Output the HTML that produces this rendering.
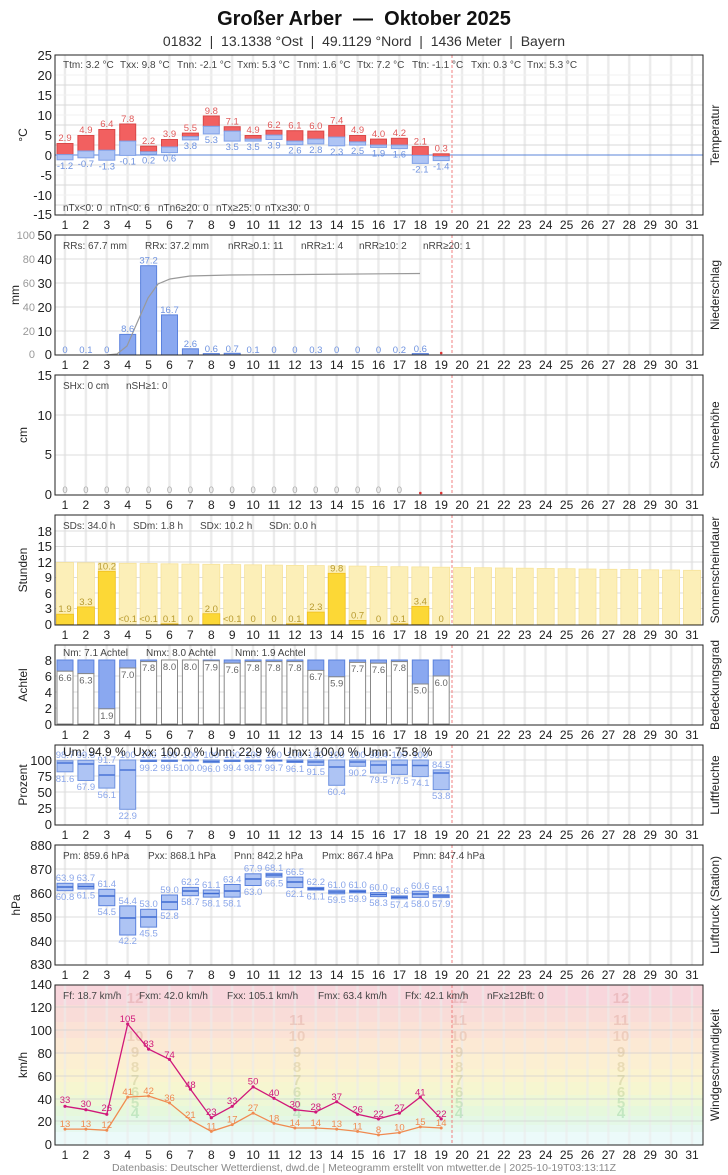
<!DOCTYPE html>
<html><head><meta charset="utf-8"><style>
body{margin:0;background:#fff}
svg{display:block;font-family:"Liberation Sans",sans-serif}
.ax{font-size:13px;fill:#222}
.st{font-size:10px;fill:#444}
.tt{font-size:12px;fill:#222}
.vr{font-size:9.5px;text-anchor:middle}
.dl{font-size:12px;fill:#222;text-anchor:middle}
.fr{fill:none;stroke:#222;stroke-width:1}
</style></head><body>
<svg width="728" height="1175" viewBox="0 0 728 1175">
<defs>
<pattern id="vd" patternUnits="userSpaceOnUse" x="54.55" y="0" width="20.9" height="10"><rect x="9.2" y="0" width="2.4" height="10" fill="#ebebeb"/></pattern>
</defs>
<text x="364" y="25" text-anchor="middle" font-size="20" font-weight="bold" fill="#111">Großer Arber&#160; — &#160;Oktober 2025</text>
<text x="364" y="46" text-anchor="middle" font-size="14" fill="#333">01832&#160; | &#160;13.1338 °Ost&#160; | &#160;49.1129 °Nord&#160; | &#160;1436 Meter&#160; | &#160;Bayern</text>

<!-- ===== Panel 1 Temperature 55..215 ===== -->
<rect x="55" y="55" width="648" height="160" fill="url(#vd)"/>
<g stroke="#f0f0f0"><line x1="55" x2="703" y1="75" y2="75"/><line x1="55" x2="703" y1="95" y2="95"/><line x1="55" x2="703" y1="115" y2="115"/><line x1="55" x2="703" y1="135" y2="135"/><line x1="55" x2="703" y1="175" y2="175"/><line x1="55" x2="703" y1="195" y2="195"/></g>
<g stroke="#d8d8d8"><line x1="55" x2="703" y1="85" y2="85"/><line x1="55" x2="703" y1="105" y2="105"/><line x1="55" x2="703" y1="125" y2="125"/><line x1="55" x2="703" y1="145" y2="145"/><line x1="55" x2="703" y1="165" y2="165"/><line x1="55" x2="703" y1="185" y2="185"/><line x1="55" x2="703" y1="205" y2="205"/></g>
<line x1="55" x2="703" y1="155" y2="155" stroke="#5b86d8"/>
<g stroke="#d94848" fill="#f26060" stroke-width="1">
<rect x="57" y="143.5" width="16" height="11.1"/><rect x="77.9" y="135.5" width="16" height="15.5"/><rect x="98.8" y="129.5" width="16" height="20.7"/><rect x="119.7" y="124" width="16" height="17.1"/><rect x="140.6" y="146.2" width="16" height="5.6"/><rect x="161.5" y="139.5" width="16" height="7.5"/><rect x="182.4" y="133.1" width="16" height="3.6"/><rect x="203.3" y="116" width="16" height="10.3"/><rect x="224.2" y="126.7" width="16" height="4.4"/><rect x="245.1" y="135.5" width="16" height="3.6"/><rect x="266" y="130.3" width="16" height="4.8"/><rect x="286.9" y="130.7" width="16" height="10.4"/><rect x="307.8" y="131.1" width="16" height="8"/><rect x="328.7" y="125.5" width="16" height="11.6"/><rect x="349.6" y="135.5" width="16" height="6.4"/><rect x="370.5" y="139.1" width="16" height="6"/><rect x="391.4" y="138.3" width="16" height="6.8"/><rect x="412.3" y="146.6" width="16" height="8.8"/><rect x="433.2" y="153.8" width="16" height="2.8"/>
</g>
<g stroke="#7fa0e8" fill="#aec4f4" stroke-width="1">
<rect x="57" y="154.6" width="16" height="5.2"/><rect x="77.9" y="151" width="16" height="6.8"/><rect x="98.8" y="150.2" width="16" height="10"/><rect x="119.7" y="141.1" width="16" height="14.3"/><rect x="140.6" y="151.8" width="16" height="2.4"/><rect x="161.5" y="147" width="16" height="5.6"/><rect x="182.4" y="136.7" width="16" height="3.2"/><rect x="203.3" y="126.3" width="16" height="7.6"/><rect x="224.2" y="131.1" width="16" height="10"/><rect x="245.1" y="139.1" width="16" height="2"/><rect x="266" y="135.1" width="16" height="4.4"/><rect x="286.9" y="141.1" width="16" height="3.6"/><rect x="307.8" y="139.1" width="16" height="4.8"/><rect x="328.7" y="137.1" width="16" height="8.7"/><rect x="349.6" y="141.9" width="16" height="3.2"/><rect x="370.5" y="145.1" width="16" height="2.3"/><rect x="391.4" y="145.1" width="16" height="3.5"/><rect x="412.3" y="155.4" width="16" height="8"/><rect x="433.2" y="156.6" width="16" height="4"/>
</g>
<g class="vr" fill="#e05a5a">
<text x="65" y="141">2.9</text><text x="85.9" y="133">4.9</text><text x="106.8" y="127">6.4</text><text x="127.7" y="122">7.8</text><text x="148.6" y="144">2.2</text><text x="169.5" y="137">3.9</text><text x="190.4" y="131">5.5</text><text x="211.3" y="114">9.8</text><text x="232.2" y="124.5">7.1</text><text x="253.1" y="133">4.9</text><text x="274" y="128">6.2</text><text x="294.9" y="128.5">6.1</text><text x="315.8" y="129">6.0</text><text x="336.7" y="123.5">7.4</text><text x="357.6" y="133">4.9</text><text x="378.5" y="137">4.0</text><text x="399.4" y="136">4.2</text><text x="420.3" y="144.5">2.1</text><text x="441.2" y="151.5">0.3</text>
</g>
<g class="vr" fill="#6f93e0">
<text x="65" y="169">-1.2</text><text x="85.9" y="167">-0.7</text><text x="106.8" y="169.5">-1.3</text><text x="127.7" y="164.5">-0.1</text><text x="148.6" y="163.5">0.2</text><text x="169.5" y="161.5">0.6</text><text x="190.4" y="149">3.8</text><text x="211.3" y="143">5.3</text><text x="232.2" y="150">3.5</text><text x="253.1" y="150">3.5</text><text x="274" y="148.5">3.9</text><text x="294.9" y="153.5">2.6</text><text x="315.8" y="153">2.8</text><text x="336.7" y="155">2.3</text><text x="357.6" y="154">2.5</text><text x="378.5" y="156.5">1.9</text><text x="399.4" y="157.5">1.6</text><text x="420.3" y="172.5">-2.1</text><text x="441.2" y="169.5">-1.4</text>
</g>
<g class="st" font-size="9">
<text x="63" y="68">Ttm: 3.2 °C</text><text x="120" y="68">Txx: 9.8 °C</text><text x="177" y="68">Tnn: -2.1 °C</text><text x="237" y="68">Txm: 5.3 °C</text><text x="297" y="68">Tnm: 1.6 °C</text><text x="357" y="68">Ttx: 7.2 °C</text><text x="412" y="68">Ttn: -1.1 °C</text><text x="471" y="68">Txn: 0.3 °C</text><text x="527" y="68">Tnx: 5.3 °C</text>
<text x="63" y="211">nTx&lt;0: 0</text><text x="110" y="211">nTn&lt;0: 6</text><text x="158" y="211">nTn6≥20: 0</text><text x="216" y="211">nTx≥25: 0</text><text x="265" y="211">nTx≥30: 0</text>
</g>
<g class="ax" text-anchor="end">
<text x="52" y="60">25</text><text x="52" y="80">20</text><text x="52" y="100">15</text><text x="52" y="120">10</text><text x="52" y="140">5</text><text x="52" y="160">0</text><text x="52" y="180">-5</text><text x="52" y="200">-10</text><text x="52" y="219">-15</text>
</g>
<text class="tt" transform="translate(27,135) rotate(-90)" text-anchor="middle" font-size="13">°C</text>
<text class="tt" transform="translate(719,135) rotate(-90)" text-anchor="middle">Temperatur</text>
<line x1="452" x2="452" y1="55" y2="215" stroke="#f08080" stroke-dasharray="3,2"/>
<rect class="fr" x="55" y="55" width="648" height="160"/>
<text class="dl" y="229"><tspan x="65">1</tspan><tspan x="85.9">2</tspan><tspan x="106.8">3</tspan><tspan x="127.7">4</tspan><tspan x="148.6">5</tspan><tspan x="169.5">6</tspan><tspan x="190.4">7</tspan><tspan x="211.3">8</tspan><tspan x="232.2">9</tspan><tspan x="253.1">10</tspan><tspan x="274">11</tspan><tspan x="294.9">12</tspan><tspan x="315.8">13</tspan><tspan x="336.7">14</tspan><tspan x="357.6">15</tspan><tspan x="378.5">16</tspan><tspan x="399.4">17</tspan><tspan x="420.3">18</tspan><tspan x="441.2">19</tspan><tspan x="462.1">20</tspan><tspan x="483">21</tspan><tspan x="503.9">22</tspan><tspan x="524.8">23</tspan><tspan x="545.7">24</tspan><tspan x="566.6">25</tspan><tspan x="587.5">26</tspan><tspan x="608.4">27</tspan><tspan x="629.3">28</tspan><tspan x="650.2">29</tspan><tspan x="671.1">30</tspan><tspan x="692">31</tspan></text>

<!-- ===== Panel 2 Precip 235..355 ===== -->
<rect x="55" y="235" width="648" height="120" fill="url(#vd)"/>
<g stroke="#dcdcdc"><line x1="55" x2="703" y1="259" y2="259"/><line x1="55" x2="703" y1="283" y2="283"/><line x1="55" x2="703" y1="307" y2="307"/><line x1="55" x2="703" y1="331" y2="331"/></g>
<g fill="#8aa8f0" stroke="#5b82dd">
<rect x="119.7" y="334.4" width="16" height="20.6"/><rect x="140.6" y="265.7" width="16" height="89.3"/><rect x="161.5" y="314.9" width="16" height="40.1"/><rect x="182.4" y="348.8" width="16" height="6.2"/><rect x="203.3" y="353.6" width="16" height="1.4"/><rect x="224.2" y="353.3" width="16" height="1.7"/><rect x="412.3" y="353.6" width="16" height="1.4"/>
</g>
<polyline fill="none" stroke="#999" stroke-width="1.2" points="107,355 117,354 127,346 137,323 148,298 158,284 170,279 190,276 230,275 300,274.5 420,273.5"/>
<g class="vr" fill="#6f93e0">
<text x="65" y="353">0</text><text x="85.9" y="353">0.1</text><text x="106.8" y="353">0</text><text x="127.7" y="332">8.6</text><text x="148.6" y="263.5">37.2</text><text x="169.5" y="313">16.7</text><text x="190.4" y="347">2.6</text><text x="211.3" y="352">0.6</text><text x="232.2" y="352">0.7</text><text x="253.1" y="353">0.1</text><text x="274" y="353">0</text><text x="294.9" y="353">0</text><text x="315.8" y="353">0.3</text><text x="336.7" y="353">0</text><text x="357.6" y="353">0</text><text x="378.5" y="353">0</text><text x="399.4" y="353">0.2</text><text x="420.3" y="352">0.6</text>
</g>
<circle cx="441.2" cy="353" r="1.3" fill="#d33"/>
<g class="st" font-size="11.5"><text x="63" y="249">RRs: 67.7 mm</text><text x="145" y="249">RRx: 37.2 mm</text><text x="228" y="249">nRR≥0.1: 11</text><text x="301" y="249">nRR≥1: 4</text><text x="359" y="249">nRR≥10: 2</text><text x="423" y="249">nRR≥20: 1</text></g>
<g class="ax" text-anchor="end"><text x="52" y="240">50</text><text x="52" y="264">40</text><text x="52" y="288">30</text><text x="52" y="312">20</text><text x="52" y="336">10</text><text x="52" y="359">0</text></g>
<g text-anchor="end" font-size="11" fill="#999"><text x="35" y="239">100</text><text x="35" y="263">80</text><text x="35" y="287">60</text><text x="35" y="311">40</text><text x="35" y="335">20</text><text x="35" y="358">0</text></g>
<text class="tt" transform="translate(19,295) rotate(-90)" text-anchor="middle">mm</text>
<text class="tt" transform="translate(719,295) rotate(-90)" text-anchor="middle">Niederschlag</text>
<line x1="452" x2="452" y1="235" y2="355" stroke="#f08080" stroke-dasharray="3,2"/>
<rect class="fr" x="55" y="235" width="648" height="120"/>
<text class="dl" y="369"><tspan x="65">1</tspan><tspan x="85.9">2</tspan><tspan x="106.8">3</tspan><tspan x="127.7">4</tspan><tspan x="148.6">5</tspan><tspan x="169.5">6</tspan><tspan x="190.4">7</tspan><tspan x="211.3">8</tspan><tspan x="232.2">9</tspan><tspan x="253.1">10</tspan><tspan x="274">11</tspan><tspan x="294.9">12</tspan><tspan x="315.8">13</tspan><tspan x="336.7">14</tspan><tspan x="357.6">15</tspan><tspan x="378.5">16</tspan><tspan x="399.4">17</tspan><tspan x="420.3">18</tspan><tspan x="441.2">19</tspan><tspan x="462.1">20</tspan><tspan x="483">21</tspan><tspan x="503.9">22</tspan><tspan x="524.8">23</tspan><tspan x="545.7">24</tspan><tspan x="566.6">25</tspan><tspan x="587.5">26</tspan><tspan x="608.4">27</tspan><tspan x="629.3">28</tspan><tspan x="650.2">29</tspan><tspan x="671.1">30</tspan><tspan x="692">31</tspan></text>

<!-- ===== Panel 3 Snow 375..495 ===== -->
<rect x="55" y="375" width="648" height="120" fill="url(#vd)"/>
<g stroke="#dcdcdc"><line x1="55" x2="703" y1="415" y2="415"/><line x1="55" x2="703" y1="455" y2="455"/></g>
<g class="vr" fill="#aaa"><text x="65" y="493">0</text><text x="85.9" y="493">0</text><text x="106.8" y="493">0</text><text x="127.7" y="493">0</text><text x="148.6" y="493">0</text><text x="169.5" y="493">0</text><text x="190.4" y="493">0</text><text x="211.3" y="493">0</text><text x="232.2" y="493">0</text><text x="253.1" y="493">0</text><text x="274" y="493">0</text><text x="294.9" y="493">0</text><text x="315.8" y="493">0</text><text x="336.7" y="493">0</text><text x="357.6" y="493">0</text><text x="378.5" y="493">0</text><text x="399.4" y="493">0</text></g>
<circle cx="420.3" cy="493" r="1.3" fill="#d33"/><circle cx="441.2" cy="493" r="1.3" fill="#d33"/>
<g class="st" font-size="11.5"><text x="63" y="389">SHx: 0 cm</text><text x="126" y="389">nSH≥1: 0</text></g>
<g class="ax" text-anchor="end"><text x="52" y="380">15</text><text x="52" y="420">10</text><text x="52" y="459">5</text><text x="52" y="499">0</text></g>
<text class="tt" transform="translate(27,435) rotate(-90)" text-anchor="middle">cm</text>
<text class="tt" transform="translate(719,435) rotate(-90)" text-anchor="middle">Schneehöhe</text>
<line x1="452" x2="452" y1="375" y2="495" stroke="#f08080" stroke-dasharray="3,2"/>
<rect class="fr" x="55" y="375" width="648" height="120"/>
<text class="dl" y="509"><tspan x="65">1</tspan><tspan x="85.9">2</tspan><tspan x="106.8">3</tspan><tspan x="127.7">4</tspan><tspan x="148.6">5</tspan><tspan x="169.5">6</tspan><tspan x="190.4">7</tspan><tspan x="211.3">8</tspan><tspan x="232.2">9</tspan><tspan x="253.1">10</tspan><tspan x="274">11</tspan><tspan x="294.9">12</tspan><tspan x="315.8">13</tspan><tspan x="336.7">14</tspan><tspan x="357.6">15</tspan><tspan x="378.5">16</tspan><tspan x="399.4">17</tspan><tspan x="420.3">18</tspan><tspan x="441.2">19</tspan><tspan x="462.1">20</tspan><tspan x="483">21</tspan><tspan x="503.9">22</tspan><tspan x="524.8">23</tspan><tspan x="545.7">24</tspan><tspan x="566.6">25</tspan><tspan x="587.5">26</tspan><tspan x="608.4">27</tspan><tspan x="629.3">28</tspan><tspan x="650.2">29</tspan><tspan x="671.1">30</tspan><tspan x="692">31</tspan></text>

<!-- ===== Panel 4 Sunshine 515..625 ===== -->
<rect x="55" y="515" width="648" height="110" fill="url(#vd)"/>
<g stroke="#dcdcdc"><line x1="55" x2="703" y1="531" y2="531"/><line x1="55" x2="703" y1="546.5" y2="546.5"/><line x1="55" x2="703" y1="562" y2="562"/><line x1="55" x2="703" y1="577.5" y2="577.5"/><line x1="55" x2="703" y1="593" y2="593"/><line x1="55" x2="703" y1="608.5" y2="608.5"/></g>
<g fill="#fcefb8" stroke="#f7e39a" stroke-width="0.8">
<rect x="56.5" y="562.5" width="17" height="62"/><rect x="77.4" y="562.8" width="17" height="61.7"/><rect x="98.3" y="563" width="17" height="61.5"/><rect x="119.2" y="563.3" width="17" height="61.2"/><rect x="140.1" y="563.5" width="17" height="61"/><rect x="161" y="563.8" width="17" height="60.7"/><rect x="181.9" y="564.1" width="17" height="60.4"/><rect x="202.8" y="564.3" width="17" height="60.2"/><rect x="223.7" y="564.6" width="17" height="59.9"/><rect x="244.6" y="564.8" width="17" height="59.7"/><rect x="265.5" y="565.1" width="17" height="59.4"/><rect x="286.4" y="565.4" width="17" height="59.1"/><rect x="307.3" y="565.6" width="17" height="58.9"/><rect x="328.2" y="565.9" width="17" height="58.6"/><rect x="349.1" y="566.1" width="17" height="58.4"/><rect x="370" y="566.4" width="17" height="58.1"/><rect x="390.9" y="566.7" width="17" height="57.8"/><rect x="411.8" y="566.9" width="17" height="57.6"/><rect x="432.7" y="567.2" width="17" height="57.3"/><rect x="453.6" y="567.4" width="17" height="57.1"/><rect x="474.5" y="567.7" width="17" height="56.8"/><rect x="495.4" y="568" width="17" height="56.5"/><rect x="516.3" y="568.2" width="17" height="56.3"/><rect x="537.2" y="568.5" width="17" height="56"/><rect x="558.1" y="568.7" width="17" height="55.8"/><rect x="579" y="569" width="17" height="55.5"/><rect x="599.9" y="569.3" width="17" height="55.2"/><rect x="620.8" y="569.5" width="17" height="55"/><rect x="641.7" y="569.8" width="17" height="54.7"/><rect x="662.6" y="570" width="17" height="54.5"/><rect x="683.5" y="570.3" width="17" height="54.2"/>
</g>
<g fill="#fcd836" stroke="#f0c020" stroke-width="0.8">
<rect x="56.5" y="614.2" width="17" height="10.3"/><rect x="77.4" y="606.9" width="17" height="17.6"/><rect x="98.3" y="571.3" width="17" height="53.2"/><rect x="161" y="623.8" width="17" height="0.7"/><rect x="202.8" y="613.7" width="17" height="10.8"/><rect x="286.4" y="623.8" width="17" height="0.7"/><rect x="307.3" y="612.1" width="17" height="12.4"/><rect x="328.2" y="573.3" width="17" height="51.2"/><rect x="349.1" y="620.4" width="17" height="4.1"/><rect x="390.9" y="623.8" width="17" height="0.7"/><rect x="411.8" y="606.4" width="17" height="18.1"/>
</g>
<g class="vr" fill="#b89a2e">
<text x="65" y="612">1.9</text><text x="85.9" y="605">3.3</text><text x="106.8" y="569.5">10.2</text><text x="127.7" y="622">&lt;0.1</text><text x="148.6" y="622">&lt;0.1</text><text x="169.5" y="622">0.1</text><text x="190.4" y="622">0</text><text x="211.3" y="612">2.0</text><text x="232.2" y="622">&lt;0.1</text><text x="253.1" y="622">0</text><text x="274" y="622">0</text><text x="294.9" y="622">0.1</text><text x="315.8" y="610">2.3</text><text x="336.7" y="571.5">9.8</text><text x="357.6" y="618.5">0.7</text><text x="378.5" y="622">0</text><text x="399.4" y="622">0.1</text><text x="420.3" y="604.5">3.4</text><text x="441.2" y="622">0</text>
</g>
<g class="st" font-size="11.5"><text x="63" y="529">SDs: 34.0 h</text><text x="133" y="529">SDm: 1.8 h</text><text x="200" y="529">SDx: 10.2 h</text><text x="269" y="529">SDn: 0.0 h</text></g>
<g class="ax" text-anchor="end"><text x="52" y="536">18</text><text x="52" y="551">15</text><text x="52" y="567">12</text><text x="52" y="582">9</text><text x="52" y="598">6</text><text x="52" y="613">3</text><text x="52" y="629">0</text></g>
<text class="tt" transform="translate(27,570) rotate(-90)" text-anchor="middle" font-size="13">Stunden</text>
<text class="tt" transform="translate(719,570) rotate(-90)" text-anchor="middle">Sonnenscheindauer</text>
<line x1="452" x2="452" y1="515" y2="625" stroke="#f08080" stroke-dasharray="3,2"/>
<rect class="fr" x="55" y="515" width="648" height="110"/>
<text class="dl" y="639"><tspan x="65">1</tspan><tspan x="85.9">2</tspan><tspan x="106.8">3</tspan><tspan x="127.7">4</tspan><tspan x="148.6">5</tspan><tspan x="169.5">6</tspan><tspan x="190.4">7</tspan><tspan x="211.3">8</tspan><tspan x="232.2">9</tspan><tspan x="253.1">10</tspan><tspan x="274">11</tspan><tspan x="294.9">12</tspan><tspan x="315.8">13</tspan><tspan x="336.7">14</tspan><tspan x="357.6">15</tspan><tspan x="378.5">16</tspan><tspan x="399.4">17</tspan><tspan x="420.3">18</tspan><tspan x="441.2">19</tspan><tspan x="462.1">20</tspan><tspan x="483">21</tspan><tspan x="503.9">22</tspan><tspan x="524.8">23</tspan><tspan x="545.7">24</tspan><tspan x="566.6">25</tspan><tspan x="587.5">26</tspan><tspan x="608.4">27</tspan><tspan x="629.3">28</tspan><tspan x="650.2">29</tspan><tspan x="671.1">30</tspan><tspan x="692">31</tspan></text>

<!-- ===== Panel 5 Clouds 645..725 ===== -->
<rect x="55" y="645" width="648" height="80" fill="url(#vd)"/>
<g stroke="#dcdcdc"><line x1="55" x2="703" y1="676" y2="676"/><line x1="55" x2="703" y1="692" y2="692"/><line x1="55" x2="703" y1="708" y2="708"/></g>
<g fill="#8aa8f0" stroke="#5b82dd">
<rect x="57" y="660" width="16" height="11.2"/><rect x="77.9" y="660" width="16" height="13.6"/><rect x="98.8" y="660" width="16" height="48.8"/><rect x="119.7" y="660" width="16" height="8"/><rect x="140.6" y="660" width="16" height="1.6"/><rect x="203.3" y="660" width="16" height="0.8"/><rect x="224.2" y="660" width="16" height="3.2"/><rect x="245.1" y="660" width="16" height="1.6"/><rect x="266" y="660" width="16" height="1.6"/><rect x="286.9" y="660" width="16" height="1.6"/><rect x="307.8" y="660" width="16" height="10.4"/><rect x="328.7" y="660" width="16" height="16.8"/><rect x="349.6" y="660" width="16" height="2.4"/><rect x="370.5" y="660" width="16" height="3.2"/><rect x="391.4" y="660" width="16" height="1.6"/><rect x="412.3" y="660" width="16" height="24"/><rect x="433.2" y="660" width="16" height="16"/>
</g>
<g fill="#fff" stroke="#888">
<rect x="57" y="671.2" width="16" height="52.8"/><rect x="77.9" y="673.6" width="16" height="50.4"/><rect x="98.8" y="708.8" width="16" height="15.2"/><rect x="119.7" y="668" width="16" height="56"/><rect x="140.6" y="661.6" width="16" height="62.4"/><rect x="161.5" y="660" width="16" height="64"/><rect x="182.4" y="660" width="16" height="64"/><rect x="203.3" y="660.8" width="16" height="63.2"/><rect x="224.2" y="663.2" width="16" height="60.8"/><rect x="245.1" y="661.6" width="16" height="62.4"/><rect x="266" y="661.6" width="16" height="62.4"/><rect x="286.9" y="661.6" width="16" height="62.4"/><rect x="307.8" y="670.4" width="16" height="53.6"/><rect x="328.7" y="676.8" width="16" height="47.2"/><rect x="349.6" y="662.4" width="16" height="61.6"/><rect x="370.5" y="663.2" width="16" height="60.8"/><rect x="391.4" y="661.6" width="16" height="62.4"/><rect x="412.3" y="684" width="16" height="40"/><rect x="433.2" y="676" width="16" height="48"/>
</g>
<g class="vr" fill="#666">
<text x="65" y="681">6.6</text><text x="85.9" y="683.5">6.3</text><text x="106.8" y="719">1.9</text><text x="127.7" y="678">7.0</text><text x="148.6" y="671">7.8</text><text x="169.5" y="670">8.0</text><text x="190.4" y="670">8.0</text><text x="211.3" y="670.5">7.9</text><text x="232.2" y="673">7.6</text><text x="253.1" y="671">7.8</text><text x="274" y="671">7.8</text><text x="294.9" y="671">7.8</text><text x="315.8" y="680">6.7</text><text x="336.7" y="686.5">5.9</text><text x="357.6" y="672">7.7</text><text x="378.5" y="673">7.6</text><text x="399.4" y="671">7.8</text><text x="420.3" y="693.5">5.0</text><text x="441.2" y="686">6.0</text>
</g>
<g class="st" font-size="11.5"><text x="63" y="656">Nm: 7.1 Achtel</text><text x="146" y="656">Nmx: 8.0 Achtel</text><text x="235" y="656">Nmn: 1.9 Achtel</text></g>
<g class="ax" text-anchor="end"><text x="52" y="665">8</text><text x="52" y="681">6</text><text x="52" y="697">4</text><text x="52" y="713">2</text><text x="52" y="729">0</text></g>
<text class="tt" transform="translate(27,685) rotate(-90)" text-anchor="middle" font-size="13">Achtel</text>
<text class="tt" transform="translate(719,685) rotate(-90)" text-anchor="middle">Bedeckungsgrad</text>
<line x1="452" x2="452" y1="645" y2="725" stroke="#f08080" stroke-dasharray="3,2"/>
<rect class="fr" x="55" y="645" width="648" height="80"/>
<text class="dl" y="739"><tspan x="65">1</tspan><tspan x="85.9">2</tspan><tspan x="106.8">3</tspan><tspan x="127.7">4</tspan><tspan x="148.6">5</tspan><tspan x="169.5">6</tspan><tspan x="190.4">7</tspan><tspan x="211.3">8</tspan><tspan x="232.2">9</tspan><tspan x="253.1">10</tspan><tspan x="274">11</tspan><tspan x="294.9">12</tspan><tspan x="315.8">13</tspan><tspan x="336.7">14</tspan><tspan x="357.6">15</tspan><tspan x="378.5">16</tspan><tspan x="399.4">17</tspan><tspan x="420.3">18</tspan><tspan x="441.2">19</tspan><tspan x="462.1">20</tspan><tspan x="483">21</tspan><tspan x="503.9">22</tspan><tspan x="524.8">23</tspan><tspan x="545.7">24</tspan><tspan x="566.6">25</tspan><tspan x="587.5">26</tspan><tspan x="608.4">27</tspan><tspan x="629.3">28</tspan><tspan x="650.2">29</tspan><tspan x="671.1">30</tspan><tspan x="692">31</tspan></text>

<!-- ===== Panel 6 Humidity 745..825 ===== -->
<rect x="55" y="745" width="648" height="80" fill="url(#vd)"/>
<g stroke="#dcdcdc"><line x1="55" x2="703" y1="760" y2="760"/><line x1="55" x2="703" y1="776" y2="776"/><line x1="55" x2="703" y1="792" y2="792"/><line x1="55" x2="703" y1="808" y2="808"/></g>
<g fill="#aec4f4" stroke="#6f93e0">
<rect x="57" y="760.8" width="16" height="11"/><rect x="77.9" y="760.3" width="16" height="20.2"/><rect x="98.8" y="765.3" width="16" height="22.8"/><rect x="119.7" y="760" width="16" height="49.3"/><rect x="140.6" y="760" width="16" height="1.5"/><rect x="161.5" y="760" width="16" height="1.3"/><rect x="182.4" y="760" width="16" height="1"/><rect x="203.3" y="760" width="16" height="2.6"/><rect x="224.2" y="760" width="16" height="1.4"/><rect x="245.1" y="760" width="16" height="1.8"/><rect x="266" y="760" width="16" height="1.2"/><rect x="286.9" y="760" width="16" height="2.5"/><rect x="307.8" y="760" width="16" height="5.4"/><rect x="328.7" y="760" width="16" height="25.3"/><rect x="349.6" y="760" width="16" height="6.3"/><rect x="370.5" y="761" width="16" height="12.1"/><rect x="391.4" y="760" width="16" height="14.4"/><rect x="412.3" y="760" width="16" height="16.6"/><rect x="433.2" y="769.9" width="16" height="19.7"/>
</g>
<g stroke="#4a74d6" stroke-width="1.5">
<line x1="57" x2="73" y1="763" y2="763"/><line x1="77.9" x2="93.9" y1="764" y2="764"/><line x1="98.8" x2="114.8" y1="775" y2="775"/><line x1="119.7" x2="135.7" y1="770" y2="770"/><line x1="140.6" x2="156.6" y1="761" y2="761"/><line x1="161.5" x2="177.5" y1="761" y2="761"/><line x1="182.4" x2="198.4" y1="760.5" y2="760.5"/><line x1="203.3" x2="219.3" y1="761.5" y2="761.5"/><line x1="224.2" x2="240.2" y1="761" y2="761"/><line x1="245.1" x2="261.1" y1="761" y2="761"/><line x1="266" x2="282" y1="760.6" y2="760.6"/><line x1="286.9" x2="302.9" y1="761.5" y2="761.5"/><line x1="307.8" x2="323.8" y1="762" y2="762"/><line x1="328.7" x2="344.7" y1="767" y2="767"/><line x1="349.6" x2="365.6" y1="762" y2="762"/><line x1="370.5" x2="386.5" y1="765" y2="765"/><line x1="391.4" x2="407.4" y1="765" y2="765"/><line x1="412.3" x2="428.3" y1="765.5" y2="765.5"/><line x1="433.2" x2="449.2" y1="773" y2="773"/>
</g>
<g class="vr" fill="#8aa6ea">
<text x="65" y="758">98.7</text><text x="85.9" y="758">99.5</text><text x="106.8" y="763">91.7</text><text x="127.7" y="758">100</text><text x="148.6" y="758">100</text><text x="169.5" y="758">100</text><text x="190.4" y="758">100</text><text x="211.3" y="758">100</text><text x="232.2" y="758">100</text><text x="253.1" y="758">100</text><text x="274" y="758">100</text><text x="294.9" y="758">100</text><text x="315.8" y="758">100</text><text x="336.7" y="758">100</text><text x="357.6" y="758">100</text><text x="378.5" y="758">98.4</text><text x="399.4" y="758">100</text><text x="420.3" y="758">100</text><text x="441.2" y="768">84.5</text>
<text x="65" y="782">81.6</text><text x="85.9" y="790">67.9</text><text x="106.8" y="798">56.1</text><text x="127.7" y="819">22.9</text><text x="148.6" y="771">99.2</text><text x="169.5" y="771">99.5</text><text x="190.4" y="771">100.0</text><text x="211.3" y="772">96.0</text><text x="232.2" y="771">99.4</text><text x="253.1" y="771">98.7</text><text x="274" y="771">99.7</text><text x="294.9" y="772">96.1</text><text x="315.8" y="775">91.5</text><text x="336.7" y="795">60.4</text><text x="357.6" y="776">90.2</text><text x="378.5" y="783">79.5</text><text x="399.4" y="784">77.5</text><text x="420.3" y="786">74.1</text><text x="441.2" y="799">53.8</text>
</g>
<g font-size="12" fill="#222"><text x="63" y="756">Um: 94.9 %</text><text x="133" y="756">Uxx: 100.0 %</text><text x="210" y="756">Unn: 22.9 %</text><text x="283" y="756">Umx: 100.0 %</text><text x="363" y="756">Umn: 75.8 %</text></g>
<g class="ax" text-anchor="end"><text x="52" y="765">100</text><text x="52" y="781">75</text><text x="52" y="797">50</text><text x="52" y="813">25</text><text x="52" y="829">0</text></g>
<text class="tt" transform="translate(27,785) rotate(-90)" text-anchor="middle" font-size="13">Prozent</text>
<text class="tt" transform="translate(719,785) rotate(-90)" text-anchor="middle">Luftfeuchte</text>
<line x1="452" x2="452" y1="745" y2="825" stroke="#f08080" stroke-dasharray="3,2"/>
<rect class="fr" x="55" y="745" width="648" height="80"/>
<text class="dl" y="839"><tspan x="65">1</tspan><tspan x="85.9">2</tspan><tspan x="106.8">3</tspan><tspan x="127.7">4</tspan><tspan x="148.6">5</tspan><tspan x="169.5">6</tspan><tspan x="190.4">7</tspan><tspan x="211.3">8</tspan><tspan x="232.2">9</tspan><tspan x="253.1">10</tspan><tspan x="274">11</tspan><tspan x="294.9">12</tspan><tspan x="315.8">13</tspan><tspan x="336.7">14</tspan><tspan x="357.6">15</tspan><tspan x="378.5">16</tspan><tspan x="399.4">17</tspan><tspan x="420.3">18</tspan><tspan x="441.2">19</tspan><tspan x="462.1">20</tspan><tspan x="483">21</tspan><tspan x="503.9">22</tspan><tspan x="524.8">23</tspan><tspan x="545.7">24</tspan><tspan x="566.6">25</tspan><tspan x="587.5">26</tspan><tspan x="608.4">27</tspan><tspan x="629.3">28</tspan><tspan x="650.2">29</tspan><tspan x="671.1">30</tspan><tspan x="692">31</tspan></text>

<!-- ===== Panel 7 Pressure 845..965 ===== -->
<rect x="55" y="845" width="648" height="120" fill="url(#vd)"/>
<g stroke="#dcdcdc"><line x1="55" x2="703" y1="869" y2="869"/><line x1="55" x2="703" y1="893" y2="893"/><line x1="55" x2="703" y1="917" y2="917"/><line x1="55" x2="703" y1="941" y2="941"/></g>
<g fill="#aec4f4" stroke="#5b82dd">
<rect x="57" y="883.3" width="16" height="7.4"/><rect x="77.9" y="883.8" width="16" height="5.2"/><rect x="98.8" y="889.3" width="16" height="16.4"/><rect x="119.7" y="905.9" width="16" height="29.1"/><rect x="140.6" y="909.3" width="16" height="17.8"/><rect x="161.5" y="895" width="16" height="14.7"/><rect x="182.4" y="887.4" width="16" height="8.3"/><rect x="203.3" y="890" width="16" height="7.1"/><rect x="224.2" y="884.5" width="16" height="12.6"/><rect x="245.1" y="873.8" width="16" height="11.7"/><rect x="266" y="873.3" width="16" height="3.8"/><rect x="286.9" y="877.1" width="16" height="10.5"/><rect x="307.8" y="887.4" width="16" height="2.6"/><rect x="328.7" y="890.2" width="16" height="3.6"/><rect x="349.6" y="890.2" width="16" height="2.6"/><rect x="370.5" y="892.6" width="16" height="4"/><rect x="391.4" y="895.9" width="16" height="2.9"/><rect x="412.3" y="891.2" width="16" height="6.2"/><rect x="433.2" y="894.7" width="16" height="2.9"/>
</g>
<g stroke="#3f6bd2" stroke-width="1.5">
<line x1="57" x2="73" y1="887" y2="887"/><line x1="77.9" x2="93.9" y1="886.5" y2="886.5"/><line x1="98.8" x2="114.8" y1="896" y2="896"/><line x1="119.7" x2="135.7" y1="918" y2="918"/><line x1="140.6" x2="156.6" y1="917" y2="917"/><line x1="161.5" x2="177.5" y1="902" y2="902"/><line x1="182.4" x2="198.4" y1="891" y2="891"/><line x1="203.3" x2="219.3" y1="893.5" y2="893.5"/><line x1="224.2" x2="240.2" y1="891" y2="891"/><line x1="245.1" x2="261.1" y1="879" y2="879"/><line x1="266" x2="282" y1="875" y2="875"/><line x1="286.9" x2="302.9" y1="882" y2="882"/><line x1="307.8" x2="323.8" y1="888.7" y2="888.7"/><line x1="328.7" x2="344.7" y1="892" y2="892"/><line x1="349.6" x2="365.6" y1="891.5" y2="891.5"/><line x1="370.5" x2="386.5" y1="894.5" y2="894.5"/><line x1="391.4" x2="407.4" y1="897.3" y2="897.3"/><line x1="412.3" x2="428.3" y1="894" y2="894"/><line x1="433.2" x2="449.2" y1="896" y2="896"/>
</g>
<g class="vr" fill="#8aa6ea">
<text x="65" y="881">63.9</text><text x="85.9" y="881">63.7</text><text x="106.8" y="887">61.4</text><text x="127.7" y="904">54.4</text><text x="148.6" y="907">53.0</text><text x="169.5" y="893">59.0</text><text x="190.4" y="885">62.2</text><text x="211.3" y="888">61.1</text><text x="232.2" y="882.5">63.4</text><text x="253.1" y="871.5">67.9</text><text x="274" y="871">68.1</text><text x="294.9" y="875">66.5</text><text x="315.8" y="885">62.2</text><text x="336.7" y="888">61.0</text><text x="357.6" y="888">61.0</text><text x="378.5" y="890.5">60.0</text><text x="399.4" y="894">58.6</text><text x="420.3" y="889">60.6</text><text x="441.2" y="892.5">59.1</text>
<text x="65" y="900">60.8</text><text x="85.9" y="898.5">61.5</text><text x="106.8" y="915">54.5</text><text x="127.7" y="944">42.2</text><text x="148.6" y="936.5">45.5</text><text x="169.5" y="919">52.8</text><text x="190.4" y="905">58.7</text><text x="211.3" y="906.5">58.1</text><text x="232.2" y="906.5">58.1</text><text x="253.1" y="895">63.0</text><text x="274" y="886.5">66.5</text><text x="294.9" y="897">62.1</text><text x="315.8" y="899.5">61.1</text><text x="336.7" y="903">59.5</text><text x="357.6" y="902">59.9</text><text x="378.5" y="906">58.3</text><text x="399.4" y="908">57.4</text><text x="420.3" y="907">58.0</text><text x="441.2" y="907">57.9</text>
</g>
<g class="st" font-size="11.5"><text x="63" y="859">Pm: 859.6 hPa</text><text x="148" y="859">Pxx: 868.1 hPa</text><text x="234" y="859">Pnn: 842.2 hPa</text><text x="322" y="859">Pmx: 867.4 hPa</text><text x="413" y="859">Pmn: 847.4 hPa</text></g>
<g class="ax" text-anchor="end"><text x="52" y="850">880</text><text x="52" y="874">870</text><text x="52" y="898">860</text><text x="52" y="922">850</text><text x="52" y="946">840</text><text x="52" y="969">830</text></g>
<text class="tt" transform="translate(20,905) rotate(-90)" text-anchor="middle" font-size="13">hPa</text>
<text class="tt" transform="translate(719,905) rotate(-90)" text-anchor="middle">Luftdruck (Station)</text>
<line x1="452" x2="452" y1="845" y2="965" stroke="#f08080" stroke-dasharray="3,2"/>
<rect class="fr" x="55" y="845" width="648" height="120"/>
<text class="dl" y="979"><tspan x="65">1</tspan><tspan x="85.9">2</tspan><tspan x="106.8">3</tspan><tspan x="127.7">4</tspan><tspan x="148.6">5</tspan><tspan x="169.5">6</tspan><tspan x="190.4">7</tspan><tspan x="211.3">8</tspan><tspan x="232.2">9</tspan><tspan x="253.1">10</tspan><tspan x="274">11</tspan><tspan x="294.9">12</tspan><tspan x="315.8">13</tspan><tspan x="336.7">14</tspan><tspan x="357.6">15</tspan><tspan x="378.5">16</tspan><tspan x="399.4">17</tspan><tspan x="420.3">18</tspan><tspan x="441.2">19</tspan><tspan x="462.1">20</tspan><tspan x="483">21</tspan><tspan x="503.9">22</tspan><tspan x="524.8">23</tspan><tspan x="545.7">24</tspan><tspan x="566.6">25</tspan><tspan x="587.5">26</tspan><tspan x="608.4">27</tspan><tspan x="629.3">28</tspan><tspan x="650.2">29</tspan><tspan x="671.1">30</tspan><tspan x="692">31</tspan></text>

<!-- ===== Panel 8 Wind 985..1145 ===== -->
<g>
<rect x="55" y="985" width="648" height="20" fill="#f8d6dc"/>
<rect x="55" y="1005" width="648" height="17" fill="#f9dcd8"/>
<rect x="55" y="1022" width="648" height="16" fill="#fbe2d6"/>
<rect x="55" y="1038" width="648" height="16" fill="#fce9d4"/>
<rect x="55" y="1054" width="648" height="15" fill="#fcefd2"/>
<rect x="55" y="1069" width="648" height="13" fill="#fbf3d0"/>
<rect x="55" y="1082" width="648" height="13" fill="#f6f6d0"/>
<rect x="55" y="1095" width="648" height="11" fill="#eef8d6"/>
<rect x="55" y="1106" width="648" height="10" fill="#e6f8dc"/>
<rect x="55" y="1116" width="648" height="9" fill="#e4f8e6"/>
<rect x="55" y="1125" width="648" height="7" fill="#e6f8f0"/>
<rect x="55" y="1132" width="648" height="13" fill="#ecfafa"/>
</g>
<rect x="55" y="985" width="648" height="160" fill="url(#vd)" opacity="0.6"/>
<g stroke="#d0d0d0" opacity="0.7"><line x1="55" x2="703" y1="1007" y2="1007"/><line x1="55" x2="703" y1="1030" y2="1030"/><line x1="55" x2="703" y1="1053" y2="1053"/><line x1="55" x2="703" y1="1076" y2="1076"/><line x1="55" x2="703" y1="1099" y2="1099"/><line x1="55" x2="703" y1="1121" y2="1121"/></g>
<g font-size="15" font-weight="bold" text-anchor="middle" opacity="0.35">
<text x="135" y="1003" fill="#d89090">12</text><text x="297" y="1025" fill="#d89a90">11</text><text x="459" y="1025" fill="#d89a90">11</text><text x="621" y="1025" fill="#d89a90">11</text><text x="621" y="1003" fill="#d89090">12</text><text x="459" y="1003" fill="#d89090">12</text>
<text x="135" y="1041" fill="#d8a890">10</text><text x="297" y="1041" fill="#d8a890">10</text><text x="459" y="1041" fill="#d8a890">10</text><text x="621" y="1041" fill="#d8a890">10</text>
<text x="135" y="1057" fill="#c8b080">9</text><text x="297" y="1057" fill="#c8b080">9</text><text x="459" y="1057" fill="#c8b080">9</text><text x="621" y="1057" fill="#c8b080">9</text>
<text x="135" y="1072" fill="#c8b880">8</text><text x="297" y="1072" fill="#c8b880">8</text><text x="459" y="1072" fill="#c8b880">8</text><text x="621" y="1072" fill="#c8b880">8</text>
<text x="135" y="1085" fill="#b8b880">7</text><text x="297" y="1085" fill="#b8b880">7</text><text x="459" y="1085" fill="#b8b880">7</text><text x="621" y="1085" fill="#b8b880">7</text>
<text x="135" y="1097" fill="#a8c080">6</text><text x="297" y="1097" fill="#a8c080">6</text><text x="459" y="1097" fill="#a8c080">6</text><text x="621" y="1097" fill="#a8c080">6</text>
<text x="135" y="1108" fill="#90c890">5</text><text x="297" y="1108" fill="#90c890">5</text><text x="459" y="1108" fill="#90c890">5</text><text x="621" y="1108" fill="#90c890">5</text>
<text x="135" y="1118" fill="#80c890">4</text><text x="297" y="1118" fill="#80c890">4</text><text x="459" y="1118" fill="#80c890">4</text><text x="621" y="1118" fill="#80c890">4</text>
</g>
<polyline fill="none" stroke="#d0187a" stroke-width="1.3" points="65,1106.3 85.9,1109.7 106.8,1114.3 127.7,1024 148.6,1049.1 169.5,1059.4 190.4,1089.1 211.3,1117.7 232.2,1106.3 253.1,1086.9 274,1098.3 294.9,1109.7 315.8,1112 336.7,1101.7 357.6,1114.3 378.5,1118.9 399.4,1113.1 420.3,1097.1 441.2,1118.9"/>
<polyline fill="none" stroke="#f08a50" stroke-width="1.3" points="65,1129.1 85.9,1129.1 106.8,1130.3 127.7,1097.1 148.6,1096 169.5,1102.9 190.4,1120 211.3,1131.4 232.2,1124.6 253.1,1113.1 274,1123.4 294.9,1128 315.8,1128 336.7,1129.1 357.6,1131.4 378.5,1134.9 399.4,1132.6 420.3,1126.9 441.2,1128"/>
<g fill="#d0187a"><circle cx="65" cy="1106.3" r="1.6"/><circle cx="85.9" cy="1109.7" r="1.6"/><circle cx="106.8" cy="1114.3" r="1.6"/><circle cx="127.7" cy="1024" r="1.6"/><circle cx="148.6" cy="1049.1" r="1.6"/><circle cx="169.5" cy="1059.4" r="1.6"/><circle cx="190.4" cy="1089.1" r="1.6"/><circle cx="211.3" cy="1117.7" r="1.6"/><circle cx="232.2" cy="1106.3" r="1.6"/><circle cx="253.1" cy="1086.9" r="1.6"/><circle cx="274" cy="1098.3" r="1.6"/><circle cx="294.9" cy="1109.7" r="1.6"/><circle cx="315.8" cy="1112" r="1.6"/><circle cx="336.7" cy="1101.7" r="1.6"/><circle cx="357.6" cy="1114.3" r="1.6"/><circle cx="378.5" cy="1118.9" r="1.6"/><circle cx="399.4" cy="1113.1" r="1.6"/><circle cx="420.3" cy="1097.1" r="1.6"/><circle cx="441.2" cy="1118.9" r="1.6"/></g>
<g fill="#f08a50"><circle cx="65" cy="1129.1" r="1.5"/><circle cx="85.9" cy="1129.1" r="1.5"/><circle cx="106.8" cy="1130.3" r="1.5"/><circle cx="127.7" cy="1097.1" r="1.5"/><circle cx="148.6" cy="1096" r="1.5"/><circle cx="169.5" cy="1102.9" r="1.5"/><circle cx="190.4" cy="1120" r="1.5"/><circle cx="211.3" cy="1131.4" r="1.5"/><circle cx="232.2" cy="1124.6" r="1.5"/><circle cx="253.1" cy="1113.1" r="1.5"/><circle cx="274" cy="1123.4" r="1.5"/><circle cx="294.9" cy="1128" r="1.5"/><circle cx="315.8" cy="1128" r="1.5"/><circle cx="336.7" cy="1129.1" r="1.5"/><circle cx="357.6" cy="1131.4" r="1.5"/><circle cx="378.5" cy="1134.9" r="1.5"/><circle cx="399.4" cy="1132.6" r="1.5"/><circle cx="420.3" cy="1126.9" r="1.5"/><circle cx="441.2" cy="1128" r="1.5"/></g>
<g class="vr" fill="#d0187a">
<text x="65" y="1103">33</text><text x="85.9" y="1107">30</text><text x="106.8" y="1111">26</text><text x="127.7" y="1022">105</text><text x="148.6" y="1047">83</text><text x="169.5" y="1058">74</text><text x="190.4" y="1088">48</text><text x="211.3" y="1115">23</text><text x="232.2" y="1104">33</text><text x="253.1" y="1084.5">50</text><text x="274" y="1096">40</text><text x="294.9" y="1107.5">30</text><text x="315.8" y="1110">28</text><text x="336.7" y="1100">37</text><text x="357.6" y="1112.5">26</text><text x="378.5" y="1117">22</text><text x="399.4" y="1111">27</text><text x="420.3" y="1095.5">41</text><text x="441.2" y="1117">22</text>
</g>
<g class="vr" fill="#f08a50">
<text x="65" y="1127">13</text><text x="85.9" y="1127">13</text><text x="106.8" y="1128">12</text><text x="127.7" y="1095">41</text><text x="148.6" y="1094">42</text><text x="169.5" y="1101">36</text><text x="190.4" y="1118">21</text><text x="211.3" y="1129.5">11</text><text x="232.2" y="1122.5">17</text><text x="253.1" y="1111">27</text><text x="274" y="1121.5">18</text><text x="294.9" y="1126">14</text><text x="315.8" y="1126">14</text><text x="336.7" y="1127">13</text><text x="357.6" y="1129.5">11</text><text x="378.5" y="1133">8</text><text x="399.4" y="1130.5">10</text><text x="420.3" y="1125">15</text><text x="441.2" y="1126">14</text>
</g>
<g class="st" font-size="11.5"><text x="63" y="999">Ff: 18.7 km/h</text><text x="139" y="999">Fxm: 42.0 km/h</text><text x="227" y="999">Fxx: 105.1 km/h</text><text x="318" y="999">Fmx: 63.4 km/h</text><text x="405" y="999">Ffx: 42.1 km/h</text><text x="487" y="999">nFx≥12Bft: 0</text></g>
<g class="ax" text-anchor="end"><text x="52" y="989">140</text><text x="52" y="1012">120</text><text x="52" y="1035">100</text><text x="52" y="1058">80</text><text x="52" y="1081">60</text><text x="52" y="1104">40</text><text x="52" y="1126">20</text><text x="52" y="1149">0</text></g>
<text class="tt" transform="translate(27,1065) rotate(-90)" text-anchor="middle">km/h</text>
<text class="tt" transform="translate(719,1065) rotate(-90)" text-anchor="middle">Windgeschwindigkeit</text>
<line x1="452" x2="452" y1="985" y2="1145" stroke="#f08080" stroke-dasharray="3,2"/>
<rect class="fr" x="55" y="985" width="648" height="160"/>
<text class="dl" y="1159"><tspan x="65">1</tspan><tspan x="85.9">2</tspan><tspan x="106.8">3</tspan><tspan x="127.7">4</tspan><tspan x="148.6">5</tspan><tspan x="169.5">6</tspan><tspan x="190.4">7</tspan><tspan x="211.3">8</tspan><tspan x="232.2">9</tspan><tspan x="253.1">10</tspan><tspan x="274">11</tspan><tspan x="294.9">12</tspan><tspan x="315.8">13</tspan><tspan x="336.7">14</tspan><tspan x="357.6">15</tspan><tspan x="378.5">16</tspan><tspan x="399.4">17</tspan><tspan x="420.3">18</tspan><tspan x="441.2">19</tspan><tspan x="462.1">20</tspan><tspan x="483">21</tspan><tspan x="503.9">22</tspan><tspan x="524.8">23</tspan><tspan x="545.7">24</tspan><tspan x="566.6">25</tspan><tspan x="587.5">26</tspan><tspan x="608.4">27</tspan><tspan x="629.3">28</tspan><tspan x="650.2">29</tspan><tspan x="671.1">30</tspan><tspan x="692">31</tspan></text>

<text x="364" y="1171" text-anchor="middle" font-size="10.5" fill="#888">Datenbasis: Deutscher Wetterdienst, dwd.de | Meteogramm erstellt von mtwetter.de | 2025-10-19T03:13:11Z</text>
</svg>
</body></html>
